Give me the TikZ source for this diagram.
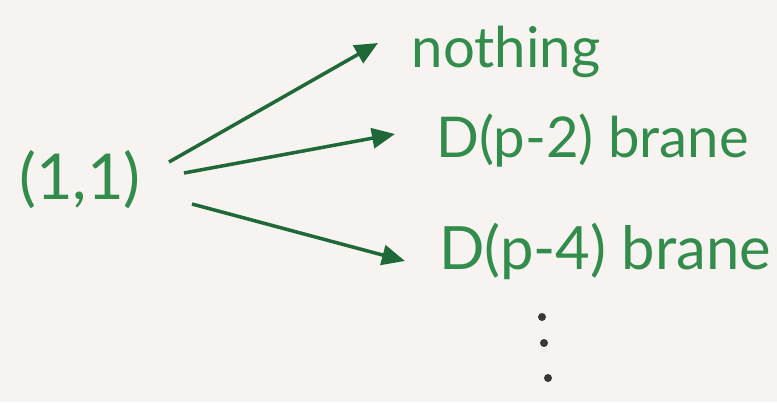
\documentclass[tikz,border=0pt]{standalone}
\usepackage{fontspec}
\setmainfont{Lato}
\usetikzlibrary{arrows.meta, positioning}

\definecolor{paper}{RGB}{246,243,240}
\definecolor{inkgreen}{RGB}{50,140,75}
\definecolor{arrowgreen}{RGB}{30,105,55}
\definecolor{dotgrey}{RGB}{55,55,55}

\begin{document}
\begin{tikzpicture}[
    label_node/.style={text=inkgreen, font=\fontsize{32}{38}\selectfont, inner sep=0pt},
    arr/.style={arrowgreen, line width=2pt, -{Triangle[length=4.6mm,width=4mm]}},
    dot_node/.style={circle, fill=dotgrey, inner sep=0pt, minimum size=1.6mm}
    ]
    % Background
    \fill[paper] (0,0) rectangle (15.54,8.04);
    \useasboundingbox (0,0) rectangle (15.54,8.04);

    % Nodes
    \node[label_node, font=\fontsize{36}{40}\selectfont] (pair) at (1.6,4.44) {(1,1)};
    \node[label_node] (nothing) at (10.12,7.0) {nothing};
    \node[label_node] (dp2) at (11.85,5.22) {D(p-2) brane};
    \node[label_node, font=\fontsize{34}{40}\selectfont] (dp4) at (12.1,3.02) {D(p-4) brane};
    \node[dot_node] (d1) at (10.84,1.70) {};
    \node[dot_node] (d2) at (10.88,1.18) {};
    \node[dot_node] (d3) at (10.96,0.48) {};

    % Arrow ends
    \coordinate (s1) at (3.38,4.80);
    \coordinate (s2) at (3.68,4.58);
    \coordinate (s3) at (3.84,3.96);
    \coordinate (t1) at (7.56,7.18);
    \coordinate (t2) at (7.90,5.36);
    \coordinate (t3) at (8.10,2.82);

    % Arrows
    \draw[arr] (s1) -- (t1);
    \draw[arr] (s2) -- (t2);
    \draw[arr] (s3) -- (t3);
\end{tikzpicture}
\end{document}
